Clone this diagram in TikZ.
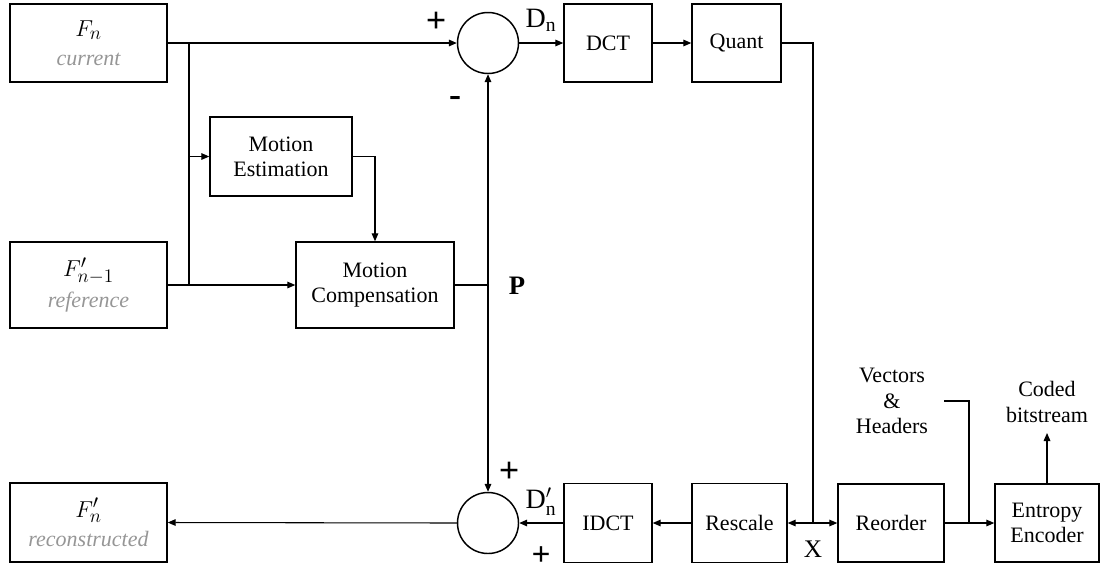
\documentclass[tikz,border=0pt]{standalone}
\usepackage{fontspec}
\setmainfont{Liberation Serif}
\usetikzlibrary{arrows.meta,positioning}
\definecolor{subgray}{RGB}{150,150,150}
\tikzset{
  blk/.style n args={2}{draw, line width=1.1pt, align=center, minimum width=#1*0.75pt, minimum height=#2*0.75pt, inner sep=1pt, font=\fontsize{16.5}{19}\selectfont},
  sumc/.style={draw, circle, line width=1.1pt, minimum size=61*0.75pt, inner sep=0pt},
  conn/.style={line width=0.8pt},
  arr/.style={conn, -{Triangle[length=6pt,width=5pt]}},
  sgn/.style={font=\fontsize{27}{27}\selectfont\bfseries},
  lbl/.style={font=\fontsize{16.5}{19}\selectfont, align=center}
}
\newcommand{\mathline}[1]{{\fontsize{19}{20}\selectfont #1}}
\begin{document}
\begin{tikzpicture}[x=0.75pt, y=-0.75pt]
\path[use as bounding box] (0,0) rectangle (1105,572);
% blocks
\node[blk={157}{78}] (fn) at (88.5,43) {\mathline{$F_n$}\\[3pt]{\color{subgray}\itshape current}};
\node[blk={157}{86}] (fnm) at (88.5,285) {\mathline{$F'_{n-1}$}\\[4pt]{\color{subgray}\itshape reference}};
\node[blk={157}{79}] (fr) at (88.5,522.5) {\mathline{$F'_n$}\\[3pt]{\color{subgray}\itshape reconstructed}};
\node[blk={142}{79}] (me) at (281,156.5) {Motion\\Estimation};
\node[blk={158}{86}] (mc) at (375,285) {Motion\\Compensation};
\node[sumc] (c1) at (488,43) {};
\node[sumc] (c2) at (488,523) {};
\node[blk={88}{78}] (dct) at (608,43) {DCT};
\node[blk={89}{78}] (quant) at (736.5,43) {Quant};
\node[blk={88}{79}] (idct) at (608,523) {IDCT};
\node[blk={95}{79}] (resc) at (739.5,523) {Rescale};
\node[blk={106}{78}] (reord) at (891,523) {Reorder};
\node[blk={104}{78}] (ent) at (1047,523) {Entropy\\Encoder};
% coordinates
\coordinate (j1) at (189,43);
\coordinate (j2) at (189,285);
\coordinate (j3) at (189,156.5);
\coordinate (p) at (488,285);
\coordinate (xj) at (813,523);
\coordinate (vh) at (944,401);
\coordinate (vj) at (969,523);
\coordinate (cb) at (1047,433);
% connectors
\draw[arr] (fn.east) -- (c1.west);
\draw[conn] (j1) -- (j2);
\draw[arr] (j3) -- (me.west);
\draw[arr] (fnm.east) -- (mc.west);
\draw[arr] (me.east) -| (mc.north);
\draw[conn] (mc.east) -- (p);
\draw[arr] (p) -- (c1.south);
\draw[arr] (p) -- (c2.north);
\draw[arr] (c1.east) -- (dct.west);
\draw[arr] (dct.east) -- (quant.west);
\draw[conn] (quant.east) -| (xj);
\draw[arr] (xj) -- (resc.east);
\draw[arr] (xj) -- (reord.west);
\draw[arr] (resc.west) -- (idct.east);
\draw[arr] (idct.west) -- (c2.east);
\draw[arr] (c2.west) -- (fr.east);
\draw[arr] (reord.east) -- (ent.west);
\draw[conn] (vh) -| (vj);
\draw[arr] (ent.north) -- (cb);
% labels
\node[sgn] (pl1) at (436,22) {+};
\node[sgn] (mi1) at (455,101) {-};
\node[lbl, font=\fontsize{21}{22}\selectfont] (dn) at (541,20) {D$_{\mathrm{n}}$};
\node[sgn] (pl2) at (509,472) {+};
\node[lbl, font=\fontsize{21}{22}\selectfont] (dpn) at (541,502) {D$'_{\mathrm{n}}$};
\node[sgn, font=\fontsize{25}{25}\selectfont\bfseries] (pl3) at (541,556) {+};
\node[font=\fontsize{20}{20}\selectfont\bfseries] (pp) at (517,286) {P};
\node[lbl, font=\fontsize{19}{20}\selectfont] (xl) at (813,549) {X};
\node[lbl] (vec) at (892,401) {Vectors\\\&\\Headers};
\node[lbl] (cbs) at (1047,402) {Coded\\bitstream};
\end{tikzpicture}
\end{document}
